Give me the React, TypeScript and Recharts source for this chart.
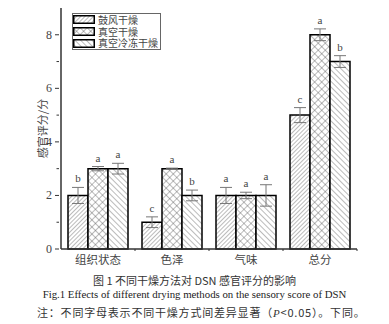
import { BarChart, Bar, XAxis, YAxis, ErrorBar, LabelList } from 'recharts'

const categories = ['组织状态', '色泽', '气味', '总分']
const seriesNames = ['鼓风干燥', '真空干燥', '真空冷冻干燥']
const blastValues = [2, 1, 2, 5]
const vacuumValues = [3, 3, 2, 8]
const freezeValues = [3, 2, 2, 7]
const blastErr = [0.3, 0.2, 0.3, 0.28]
const vacuumErr = [0.08, 0.02, 0.12, 0.22]
const freezeErr = [0.2, 0.2, 0.4, 0.22]
const blastSig = ['b', 'c', 'a', 'c']
const vacuumSig = ['a', 'a', 'a', 'a']
const freezeSig = ['a', 'b', 'a', 'b']
const yTicks = [0, 1, 2, 3, 4, 5, 6, 7, 8]

const data = categories.map((name, i) => ({
  name,
  blast: blastValues[i], blastErr: blastErr[i], blastSig: blastSig[i],
  vacuum: vacuumValues[i], vacuumErr: vacuumErr[i], vacuumSig: vacuumSig[i],
  freeze: freezeValues[i], freezeErr: freezeErr[i], freezeSig: freezeSig[i],
}))

const SERIF = '"Liberation Serif", "Noto Sans CJK SC", serif'
const CJK = '"Noto Sans CJK SC", "Liberation Serif", serif'
const AXIS = '#333'
const TEXT = '#444'
const fills = ['url(#pBlast)', 'url(#pVacuum)', 'url(#pFreeze)']

function Patterns() {
  return (
    <svg width={0} height={0} style={{ position: 'absolute' }}>
      <defs>
        <pattern id="pBlast" width={3} height={3} patternUnits="userSpaceOnUse" patternTransform="rotate(45)">
          <rect width={3} height={3} fill="#fff" />
          <line x1={0} y1={0} x2={0} y2={3} stroke="#555" strokeWidth={0.8} />
        </pattern>
        <pattern id="pVacuum" width={5} height={5} patternUnits="userSpaceOnUse" patternTransform="rotate(45)">
          <rect width={5} height={5} fill="#fff" />
          <line x1={0} y1={0} x2={0} y2={5} stroke="#555" strokeWidth={0.8} />
          <line x1={0} y1={0} x2={5} y2={0} stroke="#555" strokeWidth={0.8} />
        </pattern>
        <pattern id="pFreeze" width={4} height={4} patternUnits="userSpaceOnUse" patternTransform="rotate(-45)">
          <rect width={4} height={4} fill="#fff" />
          <line x1={0} y1={0} x2={0} y2={4} stroke="#555" strokeWidth={0.8} />
        </pattern>
      </defs>
    </svg>
  )
}

function YTick(props: any) {
  const { x, y, payload } = props
  const major = payload.value % 2 === 0
  return (
    <g>
      <line x1={x} x2={x - (major ? 4 : 2.5)} y1={y} y2={y} stroke={AXIS} strokeWidth={1} />
      {major && (
        <text x={x - 7} y={y + 4} textAnchor="end" fontSize={12} fontFamily={SERIF} fill={TEXT}>
          {payload.value}
        </text>
      )}
    </g>
  )
}

function XTick(props: any) {
  const { x, y, payload, width, visibleTicksCount } = props
  const half = width / visibleTicksCount / 2
  return (
    <g>
      <line x1={x + half} x2={x + half} y1={y} y2={y - 2} stroke={AXIS} strokeWidth={1} />
      <text x={x} y={y + 13} textAnchor="middle" fontSize={11.5} fontFamily={CJK} fill={TEXT}>
        {payload.value}
      </text>
    </g>
  )
}

function YLabel(props: any) {
  const { viewBox } = props
  const cx = viewBox.x + 42
  const cy = viewBox.y + viewBox.height / 2
  return (
    <text x={cx} y={cy} transform={`rotate(-90 ${cx} ${cy})`} textAnchor="middle" dominantBaseline="central"
      fontSize={11} fontFamily={CJK} fill={TEXT}>
      感官评分/分
    </text>
  )
}

const sigLabel = (errKey: string, sigKey: string) => (props: any) => {
  const { x, y, width, height, value, index } = props
  const row: any = data[index]
  const lift = value ? (row[errKey] * height) / value : 0
  return (
    <text x={x + width / 2} y={y - lift - 5} textAnchor="middle" fontSize={11} fontFamily={SERIF} fill={TEXT}>
      {row[sigKey]}
    </text>
  )
}

function LegendBox() {
  return (
    <div style={{ position: 'absolute', left: 72, top: 13, border: '1px solid #666', padding: '0 2px 0 0', background: '#fff', whiteSpace: 'nowrap' }}>
      {seriesNames.map((n, i) => (
        <div key={n} style={{ display: 'flex', alignItems: 'center', height: 11.8 }}>
          <svg width={22} height={9} style={{ marginRight: 3 }}>
            <rect x={0.75} y={0.75} width={20.5} height={7.5} fill={fills[i]} stroke="#000" strokeWidth={1.5} />
          </svg>
          <span style={{ fontFamily: CJK, fontSize: 10, color: TEXT, lineHeight: '10px' }}>{n}</span>
        </div>
      ))}
    </div>
  )
}

export default function App() {
  return (
    <div style={{ position: 'absolute', left: 0, top: 0, width: 389, height: 324, background: '#fff' }}>
      <Patterns />
      <BarChart width={389} height={270} data={data} margin={{ top: 8, right: 32, bottom: 0, left: 0 }}
        barCategoryGap={7} barGap={0}>
        <XAxis dataKey="name" height={21} tickSize={0} tick={<XTick />} stroke={AXIS} strokeWidth={1.5} />
        <YAxis width={61} domain={[0, 9]} ticks={yTicks} tickSize={0} tick={<YTick />} stroke={AXIS}
          strokeWidth={1.5} interval={0} label={<YLabel />} />
        <Bar dataKey="blast" name={seriesNames[0]} fill={fills[0]} stroke="#000" strokeWidth={1.5} isAnimationActive={false}>
          <ErrorBar dataKey="blastErr" width={6} stroke="#777" strokeWidth={1} />
          <LabelList dataKey="blast" content={sigLabel('blastErr', 'blastSig')} />
        </Bar>
        <Bar dataKey="vacuum" name={seriesNames[1]} fill={fills[1]} stroke="#000" strokeWidth={1.5} isAnimationActive={false}>
          <ErrorBar dataKey="vacuumErr" width={6} stroke="#777" strokeWidth={1} />
          <LabelList dataKey="vacuum" content={sigLabel('vacuumErr', 'vacuumSig')} />
        </Bar>
        <Bar dataKey="freeze" name={seriesNames[2]} fill={fills[2]} stroke="#000" strokeWidth={1.5} isAnimationActive={false}>
          <ErrorBar dataKey="freezeErr" width={6} stroke="#777" strokeWidth={1} />
          <LabelList dataKey="freeze" content={sigLabel('freezeErr', 'freezeSig')} />
        </Bar>
      </BarChart>
      <LegendBox />
      <div style={{ position: 'absolute', top: 274, left: 0, width: 389, textAlign: 'center', fontFamily: CJK, fontSize: 11, color: '#333', lineHeight: '13px' }}>
        图 1 不同干燥方法对 DSN 感官评分的影响
      </div>
      <div style={{ position: 'absolute', top: 288, left: 0, width: 389, textAlign: 'center', fontFamily: SERIF, fontSize: 10.8, color: '#222', lineHeight: '13px' }}>
        Fig.1 Effects of different drying methods on the sensory score of DSN
      </div>
      <div style={{ position: 'absolute', top: 306, left: 37, fontFamily: CJK, fontSize: 11, color: '#333', lineHeight: '13px', letterSpacing: 0.8, whiteSpace: 'nowrap' }}>
        注：不同字母表示不同干燥方式间差异显著（<i style={{ fontFamily: SERIF }}>P</i>&lt;0.05）。下同。
      </div>
    </div>
  )
}
